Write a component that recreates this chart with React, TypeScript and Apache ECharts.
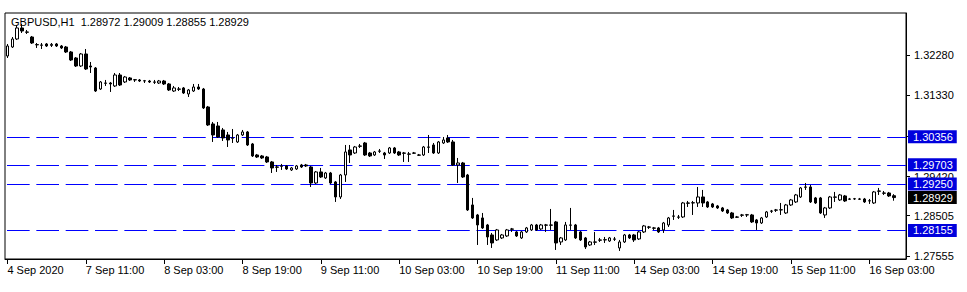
import React, { useEffect, useRef } from "react";
import * as echarts from "echarts";

const FONT = "Liberation Sans";

const titleText = "GBPUSD,H1  1.28972 1.29009 1.28855 1.28929";

// one tick label every 16 hourly bars, starting at bar 0
const tickLabels = [
  "4 Sep 2020", "7 Sep 11:00", "8 Sep 03:00", "8 Sep 19:00", "9 Sep 11:00",
  "10 Sep 03:00", "10 Sep 19:00", "11 Sep 11:00", "14 Sep 03:00",
  "14 Sep 19:00", "15 Sep 11:00", "16 Sep 03:00",
];
const tickEvery = 16;
const slotCount = 184;

const priceTicks = [1.27555, 1.28505, 1.2942, 1.3038, 1.3133, 1.3228];
const priceLabels = [1.27555, 1.28505, 1.2942, 1.3133, 1.3228];
const levels = [1.30356, 1.29703, 1.2925, 1.28155];
const lastPrice = 1.28929;

const opens = [
  1.32257, 1.32468, 1.32656, 1.32915, 1.32821, 1.32703, 1.32525, 1.32515, 1.32539, 1.32505,
  1.32539, 1.32492, 1.32468, 1.32351, 1.3221, 1.32022, 1.32304, 1.32022, 1.31975, 1.31481,
  1.31622, 1.31622, 1.31552, 1.3181, 1.31646, 1.3174, 1.31693, 1.31693, 1.31669, 1.31669,
  1.31646, 1.31622, 1.31669, 1.31599, 1.31434, 1.31481, 1.31505, 1.31364, 1.31434, 1.31528,
  1.31481, 1.31058, 1.30659, 1.30612, 1.30518, 1.304, 1.3033, 1.30236, 1.304, 1.30471,
  1.30189, 1.2993, 1.29907, 1.29883, 1.29766, 1.29648, 1.29672, 1.29672, 1.29578, 1.29601,
  1.29695, 1.29695, 1.29648, 1.29272, 1.29531, 1.2939, 1.29507, 1.29296, 1.28943, 1.2946,
  1.30048, 1.29977, 1.30142, 1.30212, 1.29977, 1.2993, 1.30024, 1.29977, 1.29977, 1.30095,
  1.30001, 1.29977, 1.29954, 1.29977, 1.2993, 1.2993, 1.30118, 1.30165, 1.29977, 1.30212,
  1.3033, 1.30236, 1.29695, 1.29742, 1.2946, 1.28755, 1.2852, 1.2845, 1.28285, 1.2805,
  1.27933, 1.2798, 1.28027, 1.28191, 1.28121, 1.2798, 1.28121, 1.28168, 1.28285, 1.28191,
  1.28285, 1.28285, 1.28356, 1.27886, 1.27933, 1.28285, 1.28285, 1.28121, 1.2798, 1.27815,
  1.27886, 1.27933, 1.27933, 1.27909, 1.27956, 1.27745, 1.27886, 1.2805, 1.2805, 1.27956,
  1.28121, 1.28238, 1.28215, 1.28215, 1.28168, 1.28285, 1.28497, 1.28473, 1.28473, 1.28802,
  1.28802, 1.28802, 1.28943, 1.28826, 1.28779, 1.28732, 1.28685, 1.28638, 1.28567, 1.28473,
  1.2852, 1.2852, 1.2852, 1.28403, 1.28332, 1.28473, 1.28614, 1.28638, 1.28638, 1.28567,
  1.28755, 1.28826, 1.28943, 1.29178, 1.29178, 1.2892, 1.2892, 1.2852, 1.28685, 1.28943,
  1.28873, 1.28967, 1.28896, 1.28896, 1.28896, 1.28896, 1.28849, 1.28802, 1.29084, 1.29037,
  1.29037, 1.28972,
];

const closes = [
  1.32492, 1.32656, 1.32915, 1.32844, 1.32815, 1.32562, 1.32518, 1.3251, 1.32492, 1.3253,
  1.32492, 1.32445, 1.32351, 1.32163, 1.32022, 1.32304, 1.31951, 1.31998, 1.31434, 1.31646,
  1.31615, 1.31599, 1.3181, 1.31575, 1.31763, 1.31693, 1.317, 1.31669, 1.31675, 1.31646,
  1.3164, 1.31669, 1.31599, 1.31458, 1.31505, 1.31475, 1.31387, 1.31458, 1.31528, 1.31481,
  1.31035, 1.30635, 1.304, 1.30353, 1.3033, 1.30283, 1.30324, 1.304, 1.30471, 1.30165,
  1.29907, 1.29883, 1.2986, 1.29766, 1.29625, 1.29642, 1.29665, 1.29601, 1.29625, 1.29672,
  1.29648, 1.29672, 1.29272, 1.29531, 1.29413, 1.29507, 1.29272, 1.28943, 1.2946, 1.30001,
  1.2993, 1.30118, 1.30135, 1.2993, 1.29907, 1.30001, 1.30018, 1.2993, 1.30095, 1.29977,
  1.2993, 1.2997, 1.29948, 1.29972, 1.29925, 1.30118, 1.30112, 1.29977, 1.30236, 1.30283,
  1.30236, 1.29695, 1.29742, 1.29413, 1.28638, 1.2845, 1.28285, 1.28215, 1.28003, 1.27862,
  1.28168, 1.2805, 1.28168, 1.28185, 1.28027, 1.28121, 1.28215, 1.28285, 1.28168, 1.28285,
  1.2828, 1.28279, 1.27862, 1.2798, 1.28285, 1.28279, 1.2798, 1.27933, 1.27768, 1.27886,
  1.2788, 1.27927, 1.2794, 1.2798, 1.2795, 1.27886, 1.2805, 1.2798, 1.27933, 1.28121,
  1.28262, 1.28232, 1.28209, 1.28121, 1.28332, 1.2845, 1.28491, 1.28467, 1.28802, 1.28796,
  1.28808, 1.28943, 1.28802, 1.28708, 1.28708, 1.28685, 1.28614, 1.28567, 1.2845, 1.28467,
  1.28514, 1.28526, 1.28356, 1.28332, 1.2845, 1.28591, 1.28608, 1.28632, 1.28644, 1.28755,
  1.28873, 1.2899, 1.29155, 1.29172, 1.28826, 1.28802, 1.28567, 1.28685, 1.28943, 1.28937,
  1.2899, 1.28849, 1.2889, 1.28902, 1.2889, 1.28826, 1.28855, 1.29061, 1.29078, 1.29031,
  1.28967, 1.28929,
];

const lows = [
  1.3221, 1.32445, 1.32633, 1.32797, 1.32774, 1.32539, 1.32445, 1.32421, 1.32468, 1.32468,
  1.32468, 1.32421, 1.32327, 1.32139, 1.31998, 1.31998, 1.31928, 1.31857, 1.31411, 1.31458,
  1.31552, 1.31411, 1.31528, 1.31552, 1.31622, 1.31669, 1.31646, 1.31646, 1.31622, 1.31622,
  1.31599, 1.31599, 1.31575, 1.31434, 1.31411, 1.31434, 1.31364, 1.31293, 1.31411, 1.31458,
  1.31011, 1.30612, 1.30236, 1.3033, 1.30259, 1.30118, 1.30212, 1.30212, 1.30377, 1.30142,
  1.29883, 1.2986, 1.29836, 1.29742, 1.29507, 1.29531, 1.29578, 1.29578, 1.29554, 1.29578,
  1.29625, 1.29648, 1.29178, 1.29249, 1.2939, 1.29366, 1.29249, 1.28826, 1.28896, 1.29296,
  1.29742, 1.29954, 1.30095, 1.29907, 1.29883, 1.29907, 1.29977, 1.29836, 1.29954, 1.29954,
  1.29907, 1.29766, 1.29766, 1.29954, 1.29907, 1.29907, 1.29977, 1.29954, 1.29954, 1.30189,
  1.30212, 1.29672, 1.29272, 1.2939, 1.28614, 1.28426, 1.27815, 1.28191, 1.27815, 1.27745,
  1.27909, 1.27956, 1.28003, 1.28121, 1.28003, 1.27956, 1.28097, 1.28144, 1.28144, 1.28168,
  1.28121, 1.28168, 1.27698, 1.27815, 1.27909, 1.28168, 1.27956, 1.27909, 1.27721, 1.27792,
  1.27815, 1.27886, 1.27862, 1.27886, 1.27909, 1.27674, 1.27862, 1.27956, 1.27886, 1.27933,
  1.28097, 1.28191, 1.28168, 1.28097, 1.28097, 1.28238, 1.28403, 1.28426, 1.2845, 1.28708,
  1.2852, 1.28708, 1.28708, 1.28685, 1.28685, 1.28661, 1.28591, 1.28544, 1.28426, 1.2845,
  1.28473, 1.28473, 1.28332, 1.28168, 1.28309, 1.2845, 1.28567, 1.28591, 1.2852, 1.28544,
  1.28732, 1.28802, 1.2892, 1.29108, 1.28802, 1.28779, 1.28544, 1.2845, 1.28661, 1.28826,
  1.28849, 1.28826, 1.28873, 1.28873, 1.28873, 1.28802, 1.28779, 1.28779, 1.2899, 1.2899,
  1.28943, 1.28855,
];

const highs = [
  1.32539, 1.32703, 1.32985, 1.33009, 1.32868, 1.32727, 1.32562, 1.32562, 1.32562, 1.32562,
  1.32562, 1.32515, 1.32492, 1.32374, 1.32233, 1.32327, 1.32421, 1.32116, 1.31998, 1.31669,
  1.31693, 1.31646, 1.31857, 1.31857, 1.31787, 1.31763, 1.31716, 1.31716, 1.31693, 1.31693,
  1.31693, 1.31693, 1.31693, 1.31622, 1.31552, 1.31528, 1.31528, 1.31481, 1.31599, 1.31599,
  1.31505, 1.31082, 1.30706, 1.30706, 1.30565, 1.30471, 1.30541, 1.30424, 1.30518, 1.30494,
  1.30212, 1.29954, 1.2993, 1.29907, 1.29789, 1.29695, 1.29719, 1.29695, 1.29648, 1.29695,
  1.29719, 1.29719, 1.29672, 1.29554, 1.29625, 1.29531, 1.29531, 1.29319, 1.29484, 1.30165,
  1.30165, 1.30142, 1.30189, 1.30236, 1.30001, 1.30024, 1.30071, 1.30001, 1.30118, 1.30118,
  1.30024, 1.30001, 1.30001, 1.30001, 1.29954, 1.30142, 1.304, 1.30212, 1.30259, 1.30353,
  1.304, 1.30283, 1.2986, 1.29766, 1.29484, 1.2892, 1.28544, 1.28567, 1.28309, 1.28097,
  1.28191, 1.28074, 1.28191, 1.28215, 1.28144, 1.28144, 1.28238, 1.28309, 1.28309, 1.28309,
  1.28309, 1.28661, 1.28379, 1.28003, 1.28356, 1.28685, 1.28309, 1.28144, 1.28003, 1.27909,
  1.28121, 1.2798, 1.28003, 1.28003, 1.28003, 1.27933, 1.28074, 1.28074, 1.28074, 1.28144,
  1.28285, 1.28262, 1.28238, 1.28238, 1.28356, 1.28473, 1.28638, 1.2852, 1.28826, 1.28849,
  1.28849, 1.29178, 1.29108, 1.28849, 1.28802, 1.28755, 1.28708, 1.28661, 1.28591, 1.28497,
  1.28544, 1.28544, 1.28544, 1.28426, 1.28473, 1.28614, 1.28638, 1.28661, 1.28802, 1.28779,
  1.28896, 1.29014, 1.29178, 1.29272, 1.29225, 1.28943, 1.28943, 1.28708, 1.28967, 1.29061,
  1.29014, 1.2899, 1.2892, 1.2892, 1.2892, 1.2892, 1.28896, 1.29084, 1.29155, 1.29084,
  1.29061, 1.29009,
];

export default function App() {
  const ref = useRef<HTMLDivElement>(null);

  useEffect(() => {
    if (!ref.current) return;
    const chart = echarts.init(ref.current, null, { renderer: "svg" });

    const slots = Array.from({ length: slotCount }, (_, i) => String(i));
    const candles = opens.map((o, i) => [o, closes[i], lows[i], highs[i]]);
    const showTick = (index: number) => index % tickEvery === 0 && index / tickEvery < tickLabels.length;

    const yMin = 1.27485;
    const yMax = 1.33267;

    const labelRich = {
      color: "#ffffff",
      padding: [1, 4, 1, 5],
      lineHeight: 11,
      fontFamily: FONT,
      fontSize: 11,
    };

    chart.setOption({
      animation: false,
      backgroundColor: "#ffffff",
      textStyle: { fontFamily: FONT, fontSize: 11, color: "#000" },
      title: {
        text: titleText,
        left: 11,
        top: 16,
        padding: 0,
        textStyle: { fontFamily: FONT, fontSize: 11, fontWeight: "normal", color: "#000" },
      },
      grid: {
        left: 5,
        top: 13,
        width: 901,
        height: 246,
        show: true,
        borderColor: "#000",
        borderWidth: 1,
        backgroundColor: "transparent",
      },
      xAxis: {
        type: "category",
        data: slots,
        boundaryGap: true,
        axisLine: { show: true, lineStyle: { color: "#000", width: 1 } },
        axisTick: {
          show: true,
          alignWithLabel: true,
          interval: (i: number) => showTick(i),
          length: 5,
          lineStyle: { color: "#000" },
        },
        axisLabel: {
          interval: (i: number) => showTick(i),
          formatter: (_v: string, i: number) => tickLabels[Math.round(i / tickEvery)] ?? "",
          align: "left",
          margin: 5,
          color: "#000",
          fontFamily: FONT,
          fontSize: 11,
          hideOverlap: false,
        },
        splitLine: { show: false },
      },
      yAxis: [
        {
          type: "value",
          position: "right",
          min: yMin,
          max: yMax,
          axisLine: { show: true, lineStyle: { color: "#000", width: 1 } },
          axisTick: {
            show: true,
            length: 4,
            customValues: priceTicks,
            lineStyle: { color: "#000" },
          },
          axisLabel: {
            show: true,
            customValues: priceLabels,
            formatter: (v: number) => v.toFixed(5),
            margin: 8,
            color: "#000",
            fontFamily: FONT,
            fontSize: 11,
          },
          splitLine: { show: false },
        },
        {
          type: "value",
          position: "right",
          offset: 0,
          min: yMin,
          max: yMax,
          axisLine: { show: false },
          axisTick: { show: false },
          splitLine: { show: false },
          axisLabel: {
            show: true,
            customValues: [...levels, lastPrice],
            margin: 2,
            formatter: (v: number) => {
              const s = v.toFixed(5);
              return Math.abs(v - lastPrice) < 1e-7 ? `{last|${s}}` : `{lvl|${s}}`;
            },
            rich: {
              lvl: { ...labelRich, backgroundColor: "#0000dd" },
              last: { ...labelRich, backgroundColor: "#000000" },
            },
          },
        },
      ],
      series: [
        {
          type: "candlestick",
          data: candles,
          barWidth: 3,
          itemStyle: {
            color: "#ffffff",
            color0: "#000000",
            borderColor: "#000000",
            borderColor0: "#000000",
            borderWidth: 1,
          },
        },
        {
          type: "custom",
          name: "levels",
          data: levels.map((v) => [0, v]),
          silent: true,
          z: 1,
          clip: false,
          renderItem: (params: any, api: any) => {
            const cs = params.coordSys;
            const y = Math.round(api.coord([0, api.value(1)])[1]) + 0.5;
            return {
              type: "line",
              shape: { x1: cs.x, y1: y, x2: cs.x + cs.width, y2: y },
              style: {
                stroke: "#0000ff",
                fill: null,
                lineWidth: 1,
                lineDash: [22.67, 6.67],
                lineDashOffset: -1.7,
              },
            };
          },
        },
      ],
    });

    return () => chart.dispose();
  }, []);

  return (
    <div
      ref={ref}
      style={{ position: "absolute", left: 0, top: 0, width: 967, height: 292 }}
    />
  );
}
